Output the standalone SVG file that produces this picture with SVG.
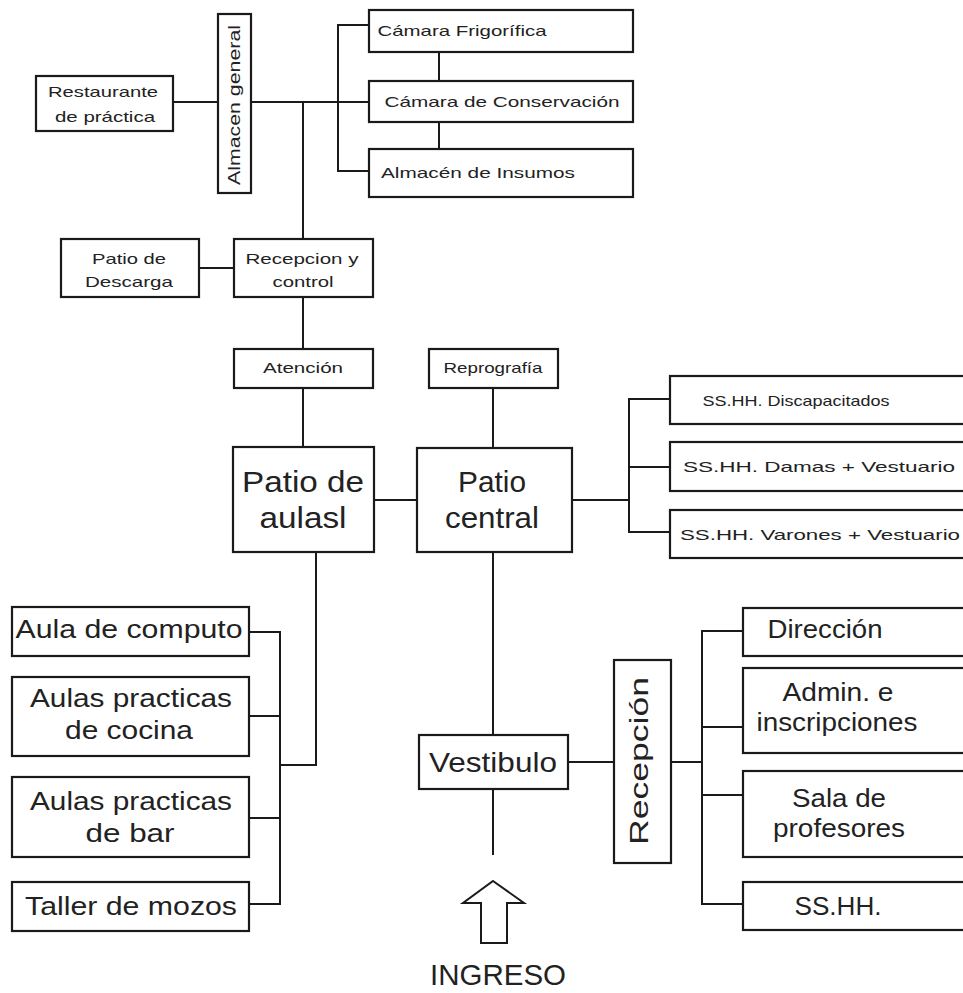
<svg xmlns="http://www.w3.org/2000/svg" width="963" height="993" viewBox="0 0 963 993">
<style>
.b{fill:#fff;stroke:#1a1a1a;stroke-width:2.2}
.c line,.c polyline{stroke:#1a1a1a;stroke-width:2;fill:none}
text{font-family:"Liberation Sans",Arial,sans-serif;fill:#222;text-anchor:middle}
.s{font-size:15px}
.m{font-size:25px}
.l{font-size:29px}
</style>
<rect width="963" height="993" fill="#fff"/>
<g class="c" id="connectors">
<line x1="173" y1="102" x2="218" y2="102"/>
<line x1="251" y1="102" x2="369" y2="102"/>
<polyline points="369,25 338,25 338,171 369,171"/>
<line x1="439" y1="52" x2="439" y2="81"/>
<line x1="439" y1="122" x2="439" y2="149"/>
<line x1="303" y1="102" x2="303" y2="239"/>
<line x1="199" y1="268" x2="234" y2="268"/>
<line x1="303" y1="297" x2="303" y2="349"/>
<line x1="303" y1="388" x2="303" y2="447"/>
<line x1="374" y1="500" x2="417" y2="500"/>
<line x1="493" y1="388" x2="493" y2="448"/>
<line x1="572" y1="500" x2="629" y2="500"/>
<polyline points="670,399 629,399 629,532 670,532"/>
<line x1="629" y1="467" x2="670" y2="467"/>
<polyline points="316,552 316,765 280,765"/>
<polyline points="249,632 280,632 280,904 249,904"/>
<line x1="249" y1="716" x2="280" y2="716"/>
<line x1="249" y1="818" x2="280" y2="818"/>
<line x1="493" y1="552" x2="493" y2="735"/>
<line x1="493" y1="789" x2="493" y2="855"/>
<line x1="568" y1="762" x2="614" y2="762"/>
<line x1="671" y1="762" x2="702" y2="762"/>
<polyline points="743,631 702,631 702,904 743,904"/>
<line x1="702" y1="727" x2="743" y2="727"/>
<line x1="702" y1="795" x2="743" y2="795"/>
</g>
<g id="restaurante"><rect class="b" x="36" y="76" width="137" height="55"/><text class="s" x="103" y="97" textLength="110" lengthAdjust="spacingAndGlyphs">Restaurante</text><text class="s" x="105" y="122" textLength="100" lengthAdjust="spacingAndGlyphs">de práctica</text></g>
<g id="almacen-general"><rect class="b" x="218" y="14" width="33" height="179"/><text class="s" transform="translate(234,105) rotate(-90)" x="0" y="6" style="font-size:16px" textLength="160" lengthAdjust="spacingAndGlyphs">Almacen general</text></g>
<g id="camara-frigorifica"><rect class="b" x="369" y="10" width="264" height="42"/><text class="s" x="462" y="36" textLength="169" lengthAdjust="spacingAndGlyphs">Cámara Frigorífica</text></g>
<g id="camara-conservacion"><rect class="b" x="369" y="81" width="264" height="41"/><text class="s" x="502" y="107" textLength="235" lengthAdjust="spacingAndGlyphs">Cámara de Conservación</text></g>
<g id="almacen-insumos"><rect class="b" x="369" y="149" width="264" height="48"/><text class="s" x="478" y="178" textLength="194" lengthAdjust="spacingAndGlyphs">Almacén de Insumos</text></g>
<g id="patio-descarga"><rect class="b" x="61" y="239" width="138" height="58"/><text class="s" x="129" y="264" textLength="74" lengthAdjust="spacingAndGlyphs">Patio de</text><text class="s" x="129" y="287" textLength="88" lengthAdjust="spacingAndGlyphs">Descarga</text></g>
<g id="recepcion-control"><rect class="b" x="234" y="239" width="139" height="58"/><text class="s" x="302" y="264" textLength="113" lengthAdjust="spacingAndGlyphs">Recepcion y</text><text class="s" x="303" y="287" textLength="61" lengthAdjust="spacingAndGlyphs">control</text></g>
<g id="atencion"><rect class="b" x="234" y="349" width="139" height="39"/><text class="s" x="303" y="373" textLength="80" lengthAdjust="spacingAndGlyphs">Atención</text></g>
<g id="reprografia"><rect class="b" x="429" y="349" width="129" height="39"/><text class="s" x="493" y="373" textLength="99" lengthAdjust="spacingAndGlyphs">Reprografía</text></g>
<g id="patio-aulas"><rect class="b" x="233" y="447" width="141" height="105"/><text class="l" x="303" y="492" textLength="122" lengthAdjust="spacingAndGlyphs">Patio de</text><text class="l" x="303" y="528" textLength="87" lengthAdjust="spacingAndGlyphs">aulasl</text></g>
<g id="patio-central"><rect class="b" x="417" y="448" width="155" height="104"/><text class="l" x="492" y="492" textLength="68" lengthAdjust="spacingAndGlyphs">Patio</text><text class="l" x="492" y="528" textLength="94" lengthAdjust="spacingAndGlyphs">central</text></g>
<g id="sshh-discapacitados"><rect class="b" x="670" y="376" width="320" height="48"/><text class="s" x="796" y="406" textLength="187" lengthAdjust="spacingAndGlyphs">SS.HH. Discapacitados</text></g>
<g id="sshh-damas"><rect class="b" x="670" y="442" width="320" height="49"/><text class="s" x="819" y="472" textLength="272" lengthAdjust="spacingAndGlyphs">SS.HH. Damas + Vestuario</text></g>
<g id="sshh-varones"><rect class="b" x="670" y="510" width="320" height="48"/><text class="s" x="820" y="540" textLength="280" lengthAdjust="spacingAndGlyphs">SS.HH. Varones + Vestuario</text></g>
<g id="aula-computo"><rect class="b" x="12" y="607" width="237" height="49"/><text class="m" x="129" y="638" textLength="227" lengthAdjust="spacingAndGlyphs">Aula de computo</text></g>
<g id="aulas-cocina"><rect class="b" x="12" y="677" width="237" height="79"/><text class="m" x="131" y="707" textLength="202" lengthAdjust="spacingAndGlyphs">Aulas practicas</text><text class="m" x="129" y="739" textLength="128" lengthAdjust="spacingAndGlyphs">de cocina</text></g>
<g id="aulas-bar"><rect class="b" x="12" y="777" width="237" height="80"/><text class="m" x="131" y="810" textLength="202" lengthAdjust="spacingAndGlyphs">Aulas practicas</text><text class="m" x="130" y="842" textLength="89" lengthAdjust="spacingAndGlyphs">de bar</text></g>
<g id="taller-mozos"><rect class="b" x="12" y="882" width="237" height="49"/><text class="m" x="131" y="915" textLength="212" lengthAdjust="spacingAndGlyphs">Taller de mozos</text></g>
<g id="vestibulo"><rect class="b" x="419" y="735" width="149" height="54"/><text class="l" x="493" y="772" style="font-size:28px" textLength="128" lengthAdjust="spacingAndGlyphs">Vestibulo</text></g>
<g id="recepcion"><rect class="b" x="614" y="660" width="57" height="203"/><text class="m" transform="translate(641,761) rotate(-90)" x="0" y="7" textLength="168" lengthAdjust="spacingAndGlyphs">Recepción</text></g>
<g id="direccion"><rect class="b" x="743" y="608" width="250" height="48"/><text class="m" x="825" y="638" textLength="115" lengthAdjust="spacingAndGlyphs">Dirección</text></g>
<g id="admin"><rect class="b" x="743" y="668" width="250" height="85"/><text class="m" x="838" y="701" textLength="111" lengthAdjust="spacingAndGlyphs">Admin. e</text><text class="m" x="837" y="731" textLength="161" lengthAdjust="spacingAndGlyphs">inscripciones</text></g>
<g id="sala-profesores"><rect class="b" x="743" y="771" width="250" height="86"/><text class="m" x="839" y="807" textLength="94" lengthAdjust="spacingAndGlyphs">Sala de</text><text class="m" x="839" y="837" textLength="132" lengthAdjust="spacingAndGlyphs">profesores</text></g>
<g id="sshh"><rect class="b" x="743" y="882" width="250" height="48"/><text class="m" x="838" y="915" textLength="87" lengthAdjust="spacingAndGlyphs">SS.HH.</text></g>
<g id="ingreso"><polygon points="493,881 524,903 507,903 507,943 481,943 481,903 463,903" fill="#fff" stroke="#1a1a1a" stroke-width="2"/><text x="498" y="985" style="font-size:29px" textLength="136" lengthAdjust="spacingAndGlyphs">INGRESO</text></g>
</svg>
